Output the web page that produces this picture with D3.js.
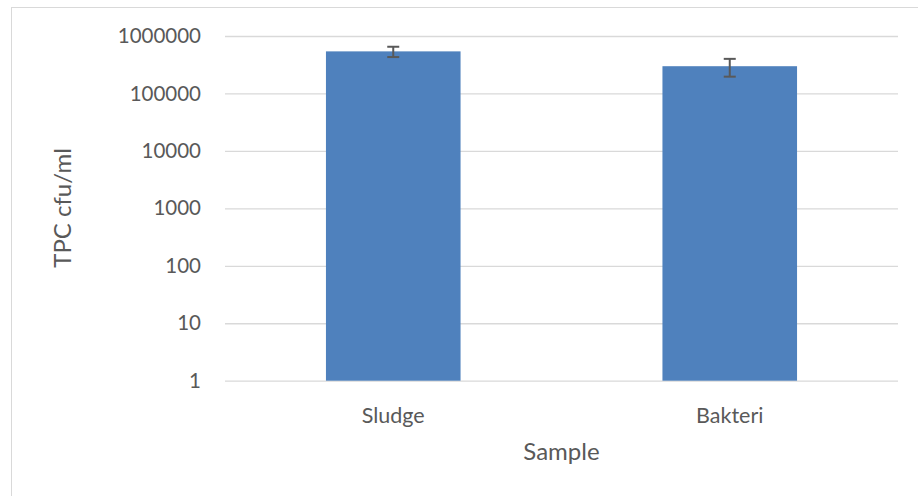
<!DOCTYPE html>
<html><head><meta charset="utf-8">
<script src="https://cdn.jsdelivr.net/npm/d3@7"></script>
<style>html,body{margin:0;padding:0;background:#fff;}svg{display:block;}</style>
</head><body><svg id="c" width="918" height="496"></svg>
<script>
const categories = ["Sludge", "Bakteri"];
const values = [540000, 298000];
const errors = [110000, 102000];
const tickValues = [1, 10, 100, 1000, 10000, 100000, 1000000];
const yTitle = "TPC cfu/ml";
const xTitle = "Sample";

(function () {
const svg = d3.select("#c");
const font = "Lato, 'Open Sans', sans-serif";
const textColor = "#595959";

svg.append("rect").attr("x", 11.5).attr("y", 7.5).attr("width", 930).attr("height", 520)
  .attr("fill", "#fff").attr("stroke", "#d9d9d9").attr("stroke-width", 1);

const pl = 225, pr = 898, pt = 36, pb = 380.7;
const x = d3.scaleBand().domain(categories).range([pl, pr]).paddingInner(0.6).paddingOuter(0.3);
const y = d3.scaleLog().domain([1, 1000000]).range([pb, pt]);

const yAxis = svg.append("g").attr("transform", `translate(${pl},0)`)
  .call(d3.axisLeft(y).tickValues(tickValues).tickFormat(d3.format("d")).tickSize(-(pr - pl)).tickPadding(24));
yAxis.select(".domain").remove();
yAxis.selectAll(".tick line").attr("stroke", "#d9d9d9").attr("stroke-width", 1.3);
yAxis.selectAll(".tick text").attr("fill", textColor).style("font-family", font).style("font-size", "20.5px");

const xAxis = svg.append("g").attr("transform", `translate(0,${pb})`)
  .call(d3.axisBottom(x).tickSize(0).tickPadding(27));
xAxis.select(".domain").remove();
xAxis.selectAll(".tick text").attr("fill", textColor).style("font-family", font).style("font-size", "21.5px");

svg.append("g").selectAll("rect").data(categories).join("rect")
  .attr("x", d => x(d)).attr("width", x.bandwidth())
  .attr("y", (d, i) => y(values[i])).attr("height", (d, i) => y(1) - y(values[i]))
  .attr("fill", "#4f81bd");

const eb = svg.append("g").attr("stroke", "#595959").attr("stroke-width", 2).attr("fill", "none");
categories.forEach((c, i) => {
  const cx = x(c) + x.bandwidth() / 2;
  const hi = y(values[i] + errors[i]), lo = y(values[i] - errors[i]);
  eb.append("line").attr("x1", cx).attr("x2", cx).attr("y1", hi).attr("y2", lo);
  eb.append("line").attr("x1", cx - 6).attr("x2", cx + 6).attr("y1", hi).attr("y2", hi);
  eb.append("line").attr("x1", cx - 6).attr("x2", cx + 6).attr("y1", lo).attr("y2", lo);
});

svg.append("text").attr("x", (pl + pr) / 2).attr("y", 460).attr("text-anchor", "middle")
  .attr("fill", textColor).style("font-family", font).style("font-size", "24px").text(xTitle);
svg.append("text").attr("transform", "translate(71,208) rotate(-90)").attr("text-anchor", "middle")
  .attr("fill", textColor).style("font-family", font).style("font-size", "24px").text(yTitle);
})();
</script></body></html>
